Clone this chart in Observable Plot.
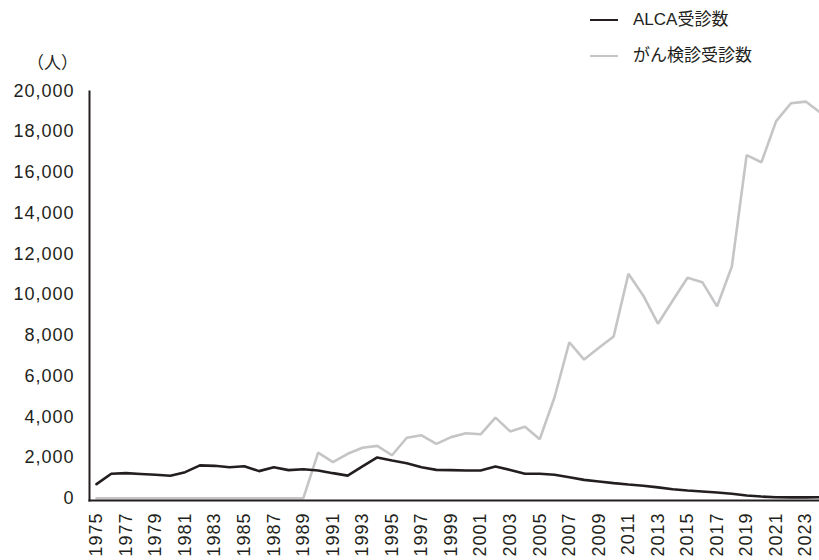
<!DOCTYPE html>
<html><head><meta charset="utf-8">
<script src="https://cdn.jsdelivr.net/npm/d3@7"></script>
<script src="https://cdn.jsdelivr.net/npm/@observablehq/plot@0.6"></script>
<style>
body{margin:0;background:#fff;}
#wrap{position:relative;width:819px;height:560px;overflow:hidden;font-family:"Liberation Sans","Noto Sans CJK JP",sans-serif;color:#231f20;}
#chart svg{display:block;}
.leg{position:absolute;left:590px;height:22px;display:flex;align-items:center;font-size:17px;line-height:22px;white-space:nowrap;}
.leg .sw{display:inline-block;width:28px;height:0;border-top:2.5px solid;margin-right:15px;}
#unit{position:absolute;left:27px;top:51px;font-size:17px;line-height:22px;font-family:"Noto Sans CJK JP",sans-serif;}
</style></head><body>
<div id="wrap">
  <div id="chart"></div>
  <div id="unit"></div>
  <div id="legend"></div>
</div>
<script>
const years = [1975,1976,1977,1978,1979,1980,1981,1982,1983,1984,1985,1986,1987,1988,1989,1990,1991,1992,1993,1994,1995,1996,1997,1998,1999,2000,2001,2002,2003,2004,2005,2006,2007,2008,2009,2010,2011,2012,2013,2014,2015,2016,2017,2018,2019,2020,2021,2022,2023,2024];
const alca = [690,1200,1230,1190,1150,1100,1280,1610,1590,1520,1570,1330,1520,1380,1420,1360,1230,1110,1560,2000,1850,1720,1520,1390,1380,1360,1360,1560,1390,1200,1200,1150,1030,900,820,740,670,610,530,440,380,330,280,220,130,80,50,40,40,50];
const gan = [0,0,0,0,0,0,0,0,0,0,0,0,0,0,0,2240,1770,2180,2480,2570,2110,2970,3090,2670,3000,3190,3140,3960,3280,3510,2900,4960,7660,6810,7390,7940,11020,9960,8570,9710,10830,10610,9420,11380,16850,16500,18520,19400,19480,18930];
const seriesNames = ["ALCA受診数", "がん検診受診数"];
const seriesColors = ["#231f20", "#c5c5c7"];
const xTicks = [1975,1977,1979,1981,1983,1985,1987,1989,1991,1993,1995,1997,1999,2001,2003,2005,2007,2009,2011,2013,2015,2017,2019,2021,2023];
const yTicks = [0,2000,4000,6000,8000,10000,12000,14000,16000,18000,20000];
const unitLabel = "（人）";

const rowsG = years.map((yr, i) => ({year: yr, value: gan[i], series: seriesNames[1]}));
const rowsA = years.map((yr, i) => ({year: yr, value: alca[i], series: seriesNames[0]}));

const chart = Plot.plot({
  width: 819,
  height: 560,
  marginLeft: 89,
  marginRight: 0,
  marginTop: 91,
  marginBottom: 60,
  style: {fontFamily: "'Liberation Sans', Arial, sans-serif", fontSize: "18px", color: "#231f20", letterSpacing: "1px", background: "#fff"},
  x: {domain: [1975, 2024], insetLeft: 7, insetRight: -1, label: null},
  y: {domain: [0, 20000], range: [497.7, 90.5], label: null},
  marks: [
    Plot.lineY(rowsG, {x: "year", y: "value", stroke: seriesColors[1], strokeWidth: 2.6, strokeLinejoin: "miter"}),
    Plot.lineY(rowsA, {x: "year", y: "value", stroke: seriesColors[0], strokeWidth: 2.6, strokeLinejoin: "miter"}),
    Plot.frame({anchor: "left", stroke: "#231f20", strokeWidth: 2}),
    Plot.frame({anchor: "bottom", stroke: "#231f20", strokeWidth: 2}),
    Plot.axisY({ticks: yTicks, tickFormat: d3.format(","), tickSize: 0, tickPadding: 15, fill: "#231f20", label: null}),
    Plot.axisX({ticks: xTicks, tickFormat: d => String(d), tickRotate: -90, tickSize: 0, tickPadding: 12, fill: "#231f20", label: null})
  ]
});
document.getElementById("chart").appendChild(chart);

document.getElementById("unit").textContent = unitLabel;
const legend = document.getElementById("legend");
const legendTops = [9, 45];
seriesNames.forEach((name, i) => {
  const d = document.createElement("div");
  d.className = "leg";
  d.style.top = legendTops[i] + "px";
  const sw = document.createElement("span");
  sw.className = "sw";
  sw.style.borderColor = seriesColors[i];
  d.appendChild(sw);
  d.appendChild(document.createTextNode(name));
  legend.appendChild(d);
});
</script>
</body></html>
